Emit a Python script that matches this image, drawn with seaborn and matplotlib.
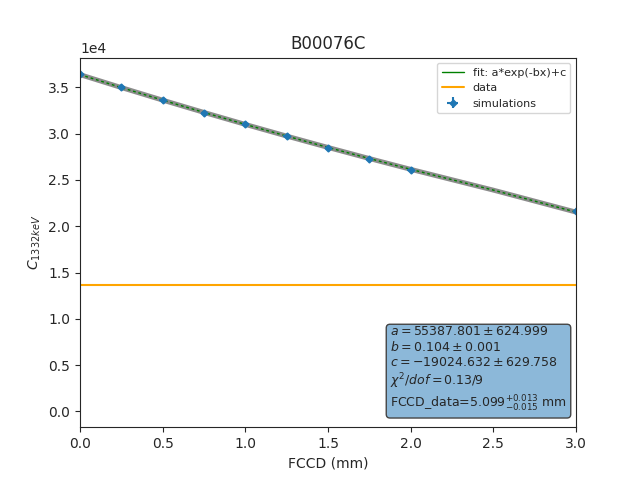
import numpy as np
import matplotlib
matplotlib.use('Agg')
from matplotlib import pyplot as plt
import seaborn as sns

fccd = [0.0, 0.25, 0.5, 0.75, 1.0, 1.25, 1.5, 1.75, 2.0, 3.0]
counts = [36400, 35000, 33600, 32250, 31000, 29700, 28400, 27250, 26050, 21600]
count_err = [190, 187, 183, 180, 176, 172, 169, 165, 161, 147]
fit_x = [0.0, 0.25, 0.5, 0.75, 1.0, 1.25, 1.5, 1.75, 2.0, 2.5, 3.0]
fit_y = [36363, 34967, 33606, 32280, 30988, 29728, 28501, 27305, 26139, 23894, 21521]
data_counts = 13600

sns.set_style('ticks')
plt.rcParams['font.family'] = ['DejaVu Sans']
fig, ax = plt.subplots(1, 1, figsize=(6.4, 4.8), dpi=100)

ax.plot(fit_x, fit_y, color='grey', lw=3.5, alpha=0.9)
sns.lineplot(x=fit_x, y=fit_y, color='green', lw=1, ax=ax,
             label='fit: a*exp(-bx)+c')
ax.lines[-1].set_linestyle((0, (2, 2)))
ax.axhline(data_counts, color='orange', label='data')
ax.errorbar(fccd, counts, yerr=count_err, xerr=0.02, fmt='D', ms=3.5,
            color='tab:blue', label='simulations')

ax.set_xlim(0, 3)
ax.set_ylim(-1700, 38200)
ax.set_title('B00076C')
ax.set_xlabel('FCCD (mm)')
ax.set_ylabel(r'$C_{1332 keV}$')
ax.ticklabel_format(axis='y', style='sci', scilimits=(4, 4))
leg = ax.legend(loc='upper right', fontsize=8)
leg.get_lines()[0].set_linestyle('-')

info = ('$a=55387.801\\pm624.999$\n$b=0.104\\pm0.001$\n'
        '$c=-19024.632\\pm629.758$\n$\\chi^2/dof=0.13/9$\n'
        'FCCD_data=$5.099^{+0.013}_{-0.015}$ mm')
ax.text(0.625, 0.035, info, transform=ax.transAxes, fontsize=9,
        va='bottom', ha='left',
        bbox=dict(boxstyle='round', facecolor='#8cb8d9', edgecolor='#444444'))

plt.savefig('out.png')
